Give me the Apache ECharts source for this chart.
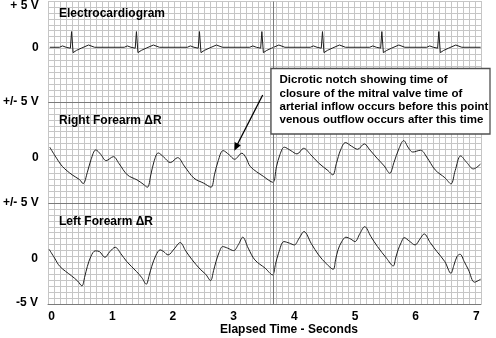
<!DOCTYPE html>
<html><head><meta charset="utf-8">
<script src="https://cdn.jsdelivr.net/npm/echarts@6/dist/echarts.min.js"></script>
<style>html,body{margin:0;padding:0;background:#fff}#c{width:496px;height:338px;background:#fff}</style>
</head><body><div id="c"></div><script>
// ---------- data ----------
const xTickValues = [0, 1, 2, 3, 4, 5, 6, 7];
const xTickLabels = ['0', '1', '2', '3', '4', '5', '6', '7'];
const panelTitles = ['Electrocardiogram', 'Right Forearm \u0394R', 'Left Forearm \u0394R'];
const ecgTickValues = [4.6, 0, -6.1];
const ecgTickLabels = ['+ 5 V', '0', '+/- 5 V'];
const rightTickValues = [0, -5];
const rightTickLabels = ['0', '+/- 5 V'];
const leftTickValues = [0, -4.8];
const leftTickLabels = ['0', '-5 V'];
const notchTime = 3.65;
const noteLines = ['Dicrotic notch showing time of', 'closure of the mitral valve time of',
  'arterial inflow occurs before this point', 'venous outflow occurs after this time'];

const ecgTime = [-0.04, 0.12,0.17,0.23,0.30,0.32,0.345,0.40,0.48,0.60,0.70,
  1.19,1.24,1.30,1.37,1.39,1.415,1.47,1.55,1.67,1.77,
  2.23,2.28,2.34,2.41,2.43,2.455,2.51,2.59,2.71,2.81,
  3.26,3.31,3.37,3.44,3.46,3.485,3.54,3.62,3.74,3.84,
  4.26,4.31,4.37,4.44,4.46,4.485,4.54,4.62,4.74,4.84,
  5.24,5.29,5.35,5.42,5.44,5.465,5.52,5.60,5.72,5.82,
  6.18,6.23,6.29,6.36,6.38,6.405,6.46,6.54,6.66,6.76, 7.07];
const ecgVolts = [0, 0,0.15,0,-0.1,1.75,-0.6,-0.35,-0.1,0.25,0,
  0,0.15,0,-0.1,1.75,-0.6,-0.35,-0.1,0.25,0,
  0,0.15,0,-0.1,1.75,-0.6,-0.35,-0.1,0.25,0,
  0,0.15,0,-0.1,1.75,-0.6,-0.35,-0.1,0.25,0,
  0,0.15,0,-0.1,1.75,-0.6,-0.35,-0.1,0.25,0,
  0,0.15,0,-0.1,1.75,-0.6,-0.35,-0.1,0.25,0,
  0,0.15,0,-0.1,1.75,-0.6,-0.35,-0.1,0.25,0, 0];

const rightTime = [-0.04,0.05,0.17,0.33,0.45,0.51,0.58,0.64,0.72,0.80,0.89,1.01,1.10,1.24,1.40,1.50,1.57,
  1.63,1.68,1.75,1.84,1.95,2.07,2.18,2.34,2.50,2.62,2.68,2.74,2.82,2.92,3.01,3.13,3.20,3.27,3.49,3.64,
  3.70,3.76,3.83,3.94,4.04,4.15,4.26,4.40,4.55,4.63,4.69,4.76,4.84,4.94,5.04,5.15,5.24,5.36,5.48,5.57,
  5.64,5.72,5.80,5.88,5.95,6.08,6.18,6.32,6.48,6.58,6.65,6.74,6.84,6.95,7.07];
const rightDeltaR = [1.19,0.2,-0.96,-1.88,-2.4,-2.85,-1.6,-0.2,0.89,0.4,-0.3,0.14,-0.6,-1.88,-2.44,-2.9,-3.25,
  -1.8,-0.4,0.55,0.1,-0.52,0.03,-0.9,-2.25,-2.8,-3.25,-1.8,-0.3,0.81,0.35,-0.15,0.52,0.0,-0.96,-2.07,-2.7,
  -1.0,0.4,1.19,0.8,0.44,1.07,0.4,-0.59,-1.4,-1.88,-0.6,0.9,1.7,1.3,0.96,1.55,0.9,-0.03,-0.9,-1.7,
  -0.5,1.0,1.92,1.1,0.65,0.85,0.1,-1.33,-2.2,-2.88,-1.4,0.22,-0.5,-1.22,-0.67];

const leftTime = [-0.04,0.05,0.14,0.33,0.43,0.50,0.55,0.59,0.65,0.72,0.79,0.88,0.96,1.05,1.14,1.24,1.40,1.49,1.56,
  1.61,1.65,1.72,1.79,1.85,1.92,2.02,2.12,2.21,2.31,2.45,2.54,2.62,2.67,2.71,2.76,2.82,2.90,3.00,3.08,3.15,
  3.24,3.35,3.52,3.64,3.69,3.74,3.83,3.92,4.00,4.08,4.16,4.28,4.40,4.53,4.64,4.68,4.72,4.78,4.85,4.93,5.00,
  5.08,5.16,5.26,5.37,5.52,5.63,5.67,5.71,5.76,5.81,5.90,5.99,6.07,6.14,6.24,6.35,6.48,6.58,6.63,6.68,6.73,
  6.80,6.87,6.97,7.07];
const leftDeltaR = [1.07,0.1,-0.85,-1.88,-2.45,-2.99,-1.9,-0.85,0.3,0.89,0.81,0.18,0.8,1.29,0.6,-0.3,-1.4,-2.1,-2.81,
  -1.8,-0.85,0.4,1.0,0.8,0.44,1.1,1.81,0.9,-0.04,-1.15,-1.7,-2.4,-1.3,-0.3,0.7,1.37,1.2,0.92,1.6,2.41,
  1.2,-0.11,-1.03,-1.77,-0.6,0.63,1.92,1.75,1.55,2.3,3.03,1.7,0.44,-0.55,-1.15,-0.1,1.0,1.9,2.41,2.2,1.92,
  2.8,3.58,2.5,1.37,0.07,-0.78,0.1,1.0,1.8,2.36,1.95,1.55,2.2,2.77,1.8,0.81,-0.3,-1.59,-0.7,0.26,0.52,
  -0.3,-1.22,-2.58,-2.25];

// ---------- chart ----------
const FONT = '"Liberation Sans", Arial, sans-serif';
const X_MIN = -0.058, X_MAX = 7.076;
const PAPER = '#c6c6c6';
const pair = (xs, ys) => xs.map((x, i) => [x, ys[i]]);
const labelFor = (vals, texts) => v => {
  let best = 0;
  vals.forEach((t, i) => { if (Math.abs(t - v) < Math.abs(vals[best] - v)) best = i; });
  return texts[best];
};
const boldLbl = () => ({ fontFamily: FONT, fontWeight: 'bold', fontSize: 12, color: '#000' });

// grid 0 = graph paper, grids 1..3 = panels
function panelX(i) {
  return {
    gridIndex: i, type: 'value', min: X_MIN, max: X_MAX, position: 'bottom',
    axisLine: { show: true, onZero: false, lineStyle: { color: '#7a7a7a', width: 1 } },
    axisTick: { show: false }, splitLine: { show: false },
    axisLabel: i === 3 ? Object.assign({ customValues: xTickValues, margin: 7,
      formatter: labelFor(xTickValues, xTickLabels) }, boldLbl()) : { show: false },
    name: i === 3 ? 'Elapsed Time - Seconds' : '',
    nameLocation: 'middle', nameGap: 19,
    nameTextStyle: Object.assign({ padding: [0, 0, 0, 49] }, boldLbl())
  };
}
function panelY(i, min, max, vals, texts) {
  return {
    gridIndex: i, type: 'value', min: min, max: max,
    axisLine: { show: false }, axisTick: { show: false }, splitLine: { show: false },
    axisLabel: Object.assign({ customValues: vals, margin: 10, formatter: labelFor(vals, texts) }, boldLbl())
  };
}
const markV = () => ({
  silent: true, symbol: 'none', label: { show: false }, animation: false,
  lineStyle: { color: '#7a7a7a', width: 1, type: 'solid' },
  data: [{ xAxis: notchTime }]
});
function lineSeries(i, data, smooth) {
  return {
    type: 'line', xAxisIndex: i, yAxisIndex: i, data: data, showSymbol: false, symbol: 'none',
    smooth: smooth, lineStyle: { color: '#1e1e1e', width: 1 }, clip: false,
    markLine: markV(), z: 3
  };
}

const chart = echarts.init(document.getElementById('c'), null, { renderer: 'canvas' });
chart.setOption({
  animation: false,
  grid: [
    { left: 48, width: 433, top: 1, height: 303 },
    { left: 48, width: 433, top: 1, height: 101 },
    { left: 48, width: 433, top: 102, height: 101 },
    { left: 48, width: 433, top: 203, height: 101 }
  ],
  xAxis: [
    { gridIndex: 0, type: 'value', min: 0, max: 72, interval: 1,
      axisLine: { show: false }, axisTick: { show: false }, axisLabel: { show: false },
      splitLine: { show: true, lineStyle: { color: PAPER, width: 1 } } },
    panelX(1), panelX(2), panelX(3)],
  yAxis: [
    { gridIndex: 0, type: 'value', min: 0, max: 51, interval: 1,
      axisLine: { show: false }, axisTick: { show: false }, axisLabel: { show: false },
      splitLine: { show: true, lineStyle: { color: PAPER, width: 1 } } },
    panelY(1, -6.1, 5.1, ecgTickValues, ecgTickLabels),
    panelY(2, -5, 6.2, rightTickValues, rightTickLabels),
    panelY(3, -5, 6.2, leftTickValues, leftTickLabels)],
  series: [
    { type: 'line', xAxisIndex: 0, yAxisIndex: 0, data: [], symbol: 'none', silent: true },
    lineSeries(1, pair(ecgTime, ecgVolts), false),
    lineSeries(2, pair(rightTime, rightDeltaR), 0.35),
    lineSeries(3, pair(leftTime, leftDeltaR), 0.35)
  ],
  graphic: [
    { type: 'text', x: 59, y: 14, z: 10, style: { text: panelTitles[0], font: 'bold 12px ' + FONT, fill: '#000', verticalAlign: 'middle' } },
    { type: 'text', x: 59, y: 121, z: 10, style: { text: panelTitles[1], font: 'bold 12px ' + FONT, fill: '#000', verticalAlign: 'middle' } },
    { type: 'text', x: 59, y: 221.5, z: 10, style: { text: panelTitles[2], font: 'bold 12px ' + FONT, fill: '#000', verticalAlign: 'middle' } },
    { type: 'rect', z: 20, shape: { x: 271, y: 68.5, width: 219, height: 65.5 },
      style: { fill: '#fff', stroke: '#505050', lineWidth: 1.3 } },
    { type: 'text', x: 279.5, y: 73.6, z: 21, style: { text: noteLines.join('\n'), font: 'bold 11.5px ' + FONT,
      lineHeight: 13.33, fill: '#000', verticalAlign: 'top' } },
    { type: 'line', z: 21, shape: { x1: 262.7, y1: 95, x2: 237.6, y2: 144 },
      style: { stroke: '#000', lineWidth: 1.3 } },
    { type: 'polygon', z: 21, shape: { points: [[234.3, 150.7], [240.8, 145.3], [234.6, 142.1]] },
      style: { fill: '#000' } }
  ]
});
</script></body></html>
